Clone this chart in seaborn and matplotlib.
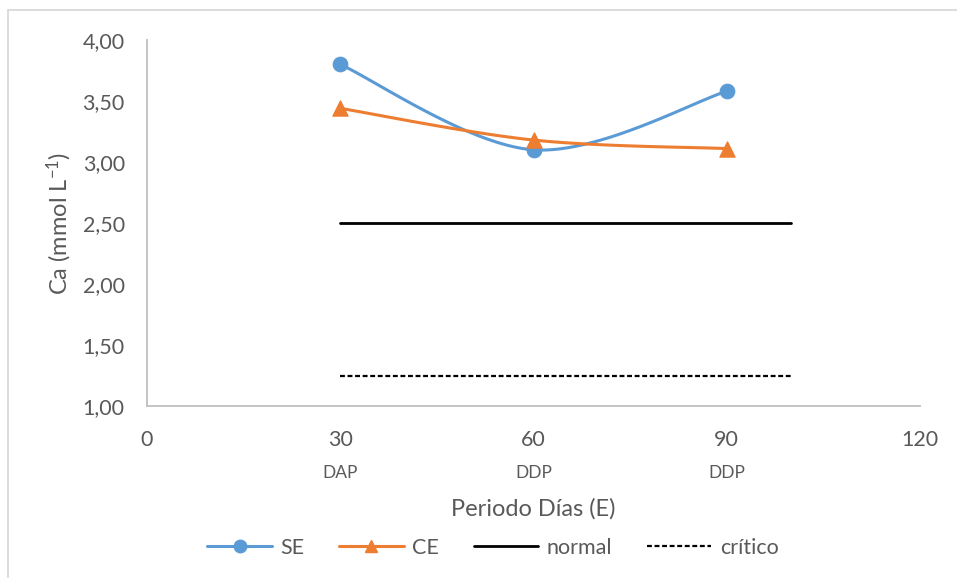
import numpy as np
import pandas as pd
import matplotlib
matplotlib.use("Agg")
import matplotlib.pyplot as plt
import seaborn as sns
from matplotlib.lines import Line2D
from matplotlib.patches import Rectangle

# ---- data ----
dias = [30, 60, 90]
etapas = ["DAP", "DDP", "DDP"]
se_vals = [3.80, 3.10, 3.58]
ce_vals = [3.44, 3.18, 3.11]
normal_x = [30, 100]
normal_y = [2.50, 2.50]
critico_x = [30, 100]
critico_y = [1.25, 1.25]
xticks = [0, 30, 60, 90, 120]
yticks = [1.0, 1.5, 2.0, 2.5, 3.0, 3.5, 4.0]

C_SE = "#5b9bd5"
C_CE = "#ed7d31"
TXT = "#595959"

sns.set_theme(style="white")
plt.rcParams["font.family"] = ["Lato", "DejaVu Sans"]
plt.rcParams["mathtext.default"] = "regular"


def excel_smooth(xs, ys, n=60):
    """Excel-like smoothed line (Catmull-Rom style Bezier) through points."""
    pts = np.column_stack([xs, ys]).astype(float)
    P = np.vstack([pts[0], pts, pts[-1]])
    out = []
    for i in range(1, len(P) - 2):
        p0, p1, p2, p3 = P[i - 1], P[i], P[i + 1], P[i + 2]
        c1 = p1 + (p2 - p0) / 6.0
        c2 = p2 - (p3 - p1) / 6.0
        t = np.linspace(0, 1, n)[:, None]
        seg = ((1 - t) ** 3) * p1 + 3 * ((1 - t) ** 2) * t * c1 + 3 * (1 - t) * t ** 2 * c2 + t ** 3 * p2
        out.append(seg if i == 1 else seg[1:])
    s = np.vstack(out)
    return s[:, 0], s[:, 1]


fig = plt.figure(figsize=(9.57, 5.78), dpi=100)
ax = fig.add_axes([147 / 957, 1 - 406 / 578, (920 - 147) / 957, (406 - 40) / 578])

DASH = (0, (2.2, 1.2))

# smoothed curves
for vals, col in [(se_vals, C_SE), (ce_vals, C_CE)]:
    sx, sy = excel_smooth(dias, vals)
    sns.lineplot(x=sx, y=sy, ax=ax, color=col, lw=2.2, sort=False, estimator=None)

df_se = pd.DataFrame({"x": dias, "y": se_vals})
df_ce = pd.DataFrame({"x": dias, "y": ce_vals})
sns.scatterplot(data=df_se, x="x", y="y", ax=ax, color=C_SE, marker="o", s=110, edgecolor=C_SE, zorder=5)
sns.scatterplot(data=df_ce, x="x", y="y", ax=ax, color=C_CE, marker="^", s=120, edgecolor=C_CE, zorder=5)

sns.lineplot(x=normal_x, y=normal_y, ax=ax, color="black", lw=2.0)
sns.lineplot(x=critico_x, y=critico_y, ax=ax, color="black", lw=1.6, linestyle=DASH)

ax.set_xlim(0, 120)
ax.set_ylim(1.0, 4.0)
ax.set_xticks(xticks)
ax.set_yticks(yticks)
ax.set_xticklabels([str(v) for v in xticks], color=TXT, fontsize=15.5)
ax.set_yticklabels([f"{v:.2f}".replace(".", ",") for v in yticks], color=TXT, fontsize=15.5)
ax.tick_params(axis="y", length=0, pad=16)
ax.tick_params(axis="x", length=0, pad=17)

for side in ["top", "right"]:
    ax.spines[side].set_visible(False)
for side in ["left", "bottom"]:
    ax.spines[side].set_color("#bfbfbf")
    ax.spines[side].set_linewidth(1.3)

# stage labels under ticks
for x, lab in zip(dias, etapas):
    ax.text(x, -0.183, lab, transform=ax.get_xaxis_transform(), ha="center", va="center",
            fontsize=12.5, color=TXT)

ax.set_ylabel("Ca (mmol L$^{-1}$)", fontsize=17, color=TXT, labelpad=6)
ax.set_xlabel("")
fig.text(533 / 957, 1 - 509 / 578, "Periodo Días (E)", ha="center", va="center", fontsize=17, color=TXT)

handles = [
    Line2D([], [], color=C_SE, lw=2.2, marker="o", markersize=9),
    Line2D([], [], color=C_CE, lw=2.2, marker="^", markersize=9),
    Line2D([], [], color="black", lw=2.0),
    Line2D([], [], color="black", lw=1.6, linestyle=DASH),
]
fig.legend(handles, ["SE", "CE", "normal", "crítico"], loc="center",
           bbox_to_anchor=(493 / 957, 1 - 548 / 578), ncol=4, frameon=False,
           fontsize=15.5, labelcolor=TXT, handlelength=3.0, columnspacing=1.6, handletextpad=0.4)

# chart area border (top & left visible)
fig.add_artist(Rectangle((8 / 957, -0.1), 1.2, 1 - 10 / 578 + 0.1, transform=fig.transFigure,
                         fill=False, edgecolor="#d9d9d9", lw=1.3))

fig.savefig("out.png", dpi=100)
